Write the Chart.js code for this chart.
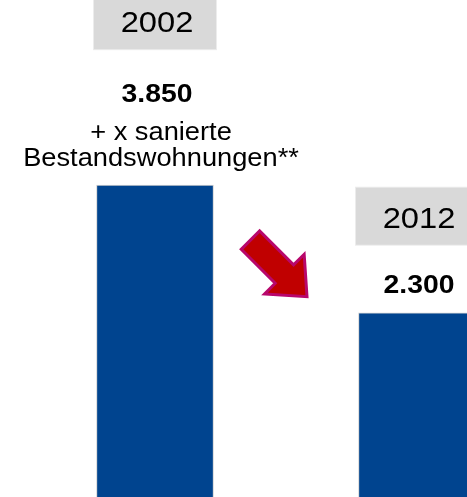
<!DOCTYPE html>
<html>
<head>
<meta charset="utf-8">
<script src="https://cdn.jsdelivr.net/npm/chart.js@4/dist/chart.umd.min.js"></script>
<style>
  html, body { margin: 0; padding: 0; background: #ffffff; overflow: hidden; width: 467px; height: 497px; }
  canvas { display: block; }
</style>
</head>
<body>
<canvas id="c" width="548" height="502"></canvas>
<script>
// ---- data ----
const categories = ['2002', '2012'];
const values = [3850, 2300];
const valueLabels = ['3.850', '2.300'];
const subLabels = [['+ x sanierte', 'Bestandswohnungen**'], []];

const FONT = '"Liberation Sans", Arial, Helvetica, sans-serif';
const STRETCH = 1.09;

function stretchedText(ctx, s, x, y) {
  ctx.save();
  ctx.translate(x, y);
  ctx.scale(STRETCH, 1);
  ctx.fillText(s, 0, 0);
  ctx.restore();
}

const annotate = {
  id: 'annotate',
  afterDatasetsDraw(chart) {
    const ctx = chart.ctx;
    const meta = chart.getDatasetMeta(0);
    ctx.save();
    meta.data.forEach((el, i) => {
      const x = el.x;
      const top = el.y;
      const tx = x + 2;
      const subs = subLabels[i];
      const n = subs.length;
      ctx.textAlign = 'center';
      ctx.textBaseline = 'alphabetic';
      ctx.fillStyle = '#000000';
      // sub lines
      ctx.font = '25px ' + FONT;
      subs.forEach((s, k) => {
        const base = top - 19 - (n - 1 - k) * 26;
        stretchedText(ctx, s, tx + 4, base);
      });
      // value label
      const vBase = n > 0 ? top - 19 - (n - 1) * 26 - 38 : top - 20;
      ctx.font = 'bold 26px ' + FONT;
      stretchedText(ctx, valueLabels[i], tx, vBase);
      // year box
      const boxBottom = vBase - 19 - (n > 0 ? 34 : 29);
      const boxH = 57, boxW = 122;
      const bx = x - 61;
      ctx.fillStyle = '#ececec';
      ctx.fillRect(bx - 1, boxBottom - boxH - 1, boxW + 2, boxH + 2);
      ctx.fillStyle = '#d9d9d9';
      ctx.fillRect(bx, boxBottom - boxH, boxW, boxH);
      ctx.fillStyle = '#000000';
      ctx.font = '30px ' + FONT;
      stretchedText(ctx, categories[i], tx, boxBottom - 17);
    });

    // decorative arrow between bars, pointing down-right
    if (meta.data.length > 1) {
      const b = meta.data[1];
      const tipX = b.x - 110, tipY = b.y - 16;
      ctx.translate(tipX, tipY);
      ctx.rotate(Math.PI / 4);
      const L = 80, headL = 32, headW = 28, shaftW = 13;
      ctx.beginPath();
      ctx.moveTo(0, 0);
      ctx.lineTo(-headL, -headW);
      ctx.lineTo(-headL, -shaftW);
      ctx.lineTo(-L, -shaftW);
      ctx.lineTo(-L, shaftW);
      ctx.lineTo(-headL, shaftW);
      ctx.lineTo(-headL, headW);
      ctx.closePath();
      ctx.fillStyle = '#c00000';
      ctx.fill();
      ctx.lineWidth = 3;
      ctx.lineJoin = 'miter';
      ctx.strokeStyle = '#b8076c';
      ctx.stroke();
    }
    ctx.restore();
  }
};

new Chart(document.getElementById('c'), {
  type: 'bar',
  data: {
    labels: categories,
    datasets: [{
      data: values,
      backgroundColor: '#00448f',
      borderColor: '#d2d2d2',
      borderWidth: 1,
      borderSkipped: 'bottom',
      barThickness: 117
    }]
  },
  options: {
    responsive: false,
    animation: false,
    devicePixelRatio: 1,
    layout: { padding: { left: 24, right: 0, top: 0, bottom: 0 } },
    plugins: { legend: { display: false }, tooltip: { enabled: false }, title: { display: false } },
    scales: {
      x: { display: false, offset: true },
      y: { display: false, min: 0, max: 6100 }
    }
  },
  plugins: [annotate]
});
</script>
</body>
</html>
